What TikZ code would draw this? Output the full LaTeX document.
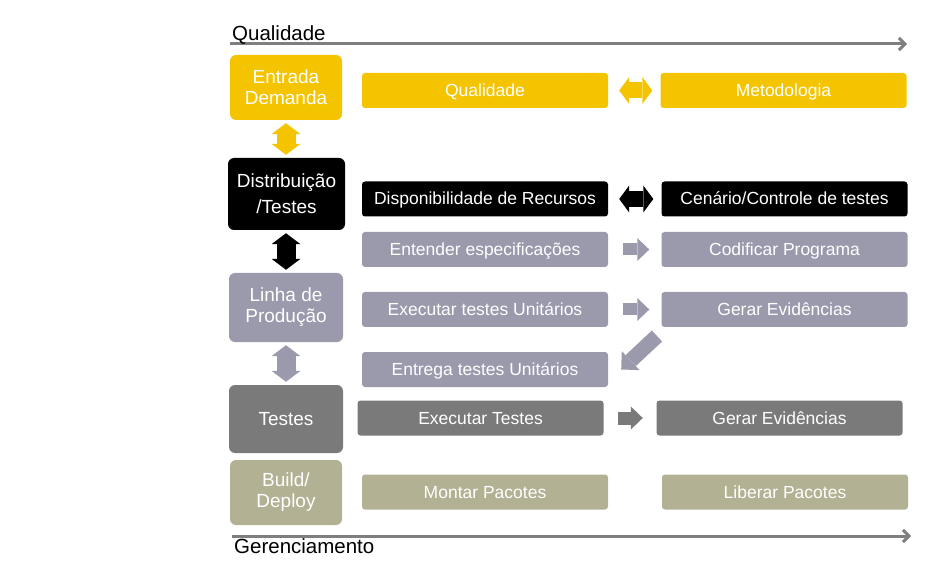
\documentclass[tikz,border=0pt]{standalone}
\usepackage{fontspec}
\setmainfont{Liberation Sans}
\usepackage{tikz}
\usetikzlibrary{
  arrows.meta,   % Triangle, Straight Barb
  calc           % coordenadas
}
\definecolor{amarelo}{RGB}{245,196,0}
\definecolor{lilas}{RGB}{154,154,172}
\definecolor{cinza}{RGB}{122,122,122}
\definecolor{oliva}{RGB}{178,177,147}
\definecolor{eixocor}{RGB}{127,127,127}
\tikzset{
  etapa/.style={
    rectangle,
    rounded corners=6pt,
    minimum width=112pt,
    minimum height=65pt,
    inner sep=0pt,
    align=center,
    text=white,
    font=\fontsize{19}{21}\selectfont
  },
  tarefa/.style={
    rectangle,
    rounded corners=3pt,
    minimum width=246pt,
    minimum height=35pt,
    inner sep=0pt,
    text height=15pt,
    text depth=3pt,
    text=white,
    font=\fontsize{17.5}{20}\selectfont
  },
  dupla vertical/.style={
    line width=19pt,
    {Triangle[length=11pt,width=29pt,line width=0pt]}-{Triangle[length=11pt,width=29pt,line width=0pt]},
    shorten <=3pt, shorten >=3pt
  },
  dupla horizontal/.style={
    line width=16pt,
    {Triangle[length=10pt,width=27pt,line width=0pt]}-{Triangle[length=10pt,width=27pt,line width=0pt]},
    shorten <=11pt, shorten >=8pt
  },
  seta bloco/.style={
    line width=12pt,
    -{Triangle[length=12pt,width=23pt,line width=0pt]},
    draw=lilas
  },
  eixo seta/.style={
    draw=eixocor,
    line width=3pt,
    -{Straight Barb[length=6pt,width=12pt]}
  },
  rotulo eixo/.style={
    inner sep=0pt,
    font=\fontsize{20.5}{24}\selectfont
  }
}

\begin{document}
\begin{tikzpicture}[x=1pt, y=-1pt]
    \useasboundingbox (0,0) rectangle (929,577);

    % 1. eixo superior
    \coordinate (qini) at (230,44);
    \coordinate (qfim) at (907,44);
    \draw[eixo seta] (qini) -- (qfim);
    \node[rotulo eixo, anchor=base west] (qualtxt) at (232,41) {Qualidade};

    % 2. coluna das etapas
    \node[etapa, fill=amarelo] (entrada) at (286,87.5) {Entrada\\Demanda};
    \node[etapa, fill=black, minimum width=117pt, minimum height=72pt] (distrib) at (286.5,194) {Distribuição\\[5pt]/Testes};
    \node[etapa, fill=lilas, minimum width=114pt, minimum height=69pt] (linha) at (286,307.5) {Linha de\\Produção};
    \node[etapa, fill=cinza, minimum width=114pt, minimum height=68pt] (testes) at (286,419) {Testes};
    \node[etapa, fill=oliva] (build) at (286,492.5) {Build/\\Deploy};

    \draw[dupla vertical, draw=amarelo] (entrada.south) -- (entrada.south |- distrib.north);
    \draw[dupla vertical, draw=black] (linha.north |- distrib.south) -- (linha.north);
    \draw[dupla vertical, draw=lilas] (linha.south) -- (linha.south |- testes.north);

    % 3. tarefas
    \node[tarefa, fill=amarelo] (qualid) at (485,90.5) {Qualidade};
    \node[tarefa, fill=amarelo] (metod) at (783.5,90.5) {Metodologia};

    \node[tarefa, fill=black] (dispon) at (485,199) {Disponibilidade de Recursos};
    \node[tarefa, fill=black] (cenario) at (784.5,199) {Cenário/Controle de testes};

    \node[tarefa, fill=lilas] (entender) at (485,249.5) {Entender especificações};
    \node[tarefa, fill=lilas] (codif) at (784.5,249.5) {Codificar Programa};

    \node[tarefa, fill=lilas] (executar) at (485,309.5) {Executar testes Unitários};
    \node[tarefa, fill=lilas] (gerarA) at (784.5,309.5) {Gerar Evidências};

    \node[tarefa, fill=lilas] (entrega) at (485,369.5) {Entrega testes Unitários};

    \node[tarefa, fill=cinza] (exectestes) at (480.5,418) {Executar Testes};
    \node[tarefa, fill=cinza] (gerarB) at (779.5,418) {Gerar Evidências};

    \node[tarefa, fill=oliva] (montar) at (485,492) {Montar Pacotes};
    \node[tarefa, fill=oliva] (liberar) at (785,492) {Liberar Pacotes};

    % setas entre tarefas
    \draw[dupla horizontal, draw=amarelo] (qualid) -- (metod);
    \draw[dupla horizontal, draw=black] (dispon) -- (cenario);
    \draw[seta bloco, shorten <=15pt, shorten >=12pt] (entender) -- (codif);
    \draw[seta bloco, shorten <=15pt, shorten >=12pt] (executar) -- (gerarA);
    \coordinate (diagini) at (657,336);
    \draw[seta bloco, line width=15pt, -{Triangle[length=13pt,width=26pt,line width=0pt]}] (diagini) -- ($(entrega.east)+(13,0)$);
    \draw[seta bloco, line width=13pt, draw=cinza, shorten <=14.5pt, shorten >=13.5pt] (exectestes) -- (gerarB);

    % 4. eixo inferior
    \coordinate (gini) at (232,536);
    \coordinate (gfim) at (911,536);
    \draw[eixo seta] (gini) -- (gfim);
    \node[rotulo eixo, anchor=north west] (gertxt) at (234,538) {Gerenciamento};

\end{tikzpicture}
\end{document}
